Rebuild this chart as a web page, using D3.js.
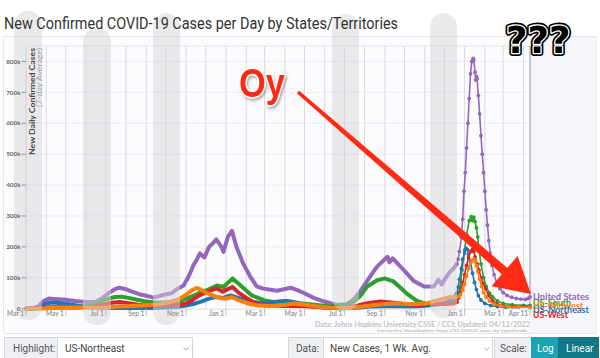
<!DOCTYPE html>
<html><head><meta charset="utf-8">
<script src="https://cdn.jsdelivr.net/npm/d3@7"></script>
<style>
html,body{margin:0;padding:0;background:#fff;}
svg{display:block;}
</style></head>
<body>
<svg id="c" width="600" height="358"></svg>
<script>
// ---------- DATA ----------
const seriesNames  = ["United States","US-South","US-Northeast","US-West","US-Midwest"];
const seriesColors = ["#9467bd","#2ca02c","#1f77b4","#d62728","#ff7f0e"];

const usData = [
["2020-03-01",0],["2020-03-12",1000],["2020-03-20",8000],["2020-03-28",25000],["2020-04-05",33000],["2020-04-15",31000],
["2020-05-01",29000],["2020-05-15",25000],["2020-06-01",22000],["2020-06-15",22000],["2020-06-25",33000],["2020-07-05",50000],
["2020-07-15",63000],["2020-07-22",68000],["2020-08-01",63000],["2020-08-10",55000],["2020-08-25",45000],["2020-09-05",40000],
["2020-09-12",36000],["2020-09-28",45000],["2020-10-10",50000],["2020-10-17",62000],["2020-10-28",75000],["2020-11-05",105000],
["2020-11-12",140000],["2020-11-17",158000],["2020-11-22",179000],["2020-11-29",166000],["2020-12-06",200000],["2020-12-12",212000],
["2020-12-17",224000],["2020-12-25",200000],["2020-12-28",184000],["2021-01-04",233000],["2021-01-10",252000],["2021-01-17",200000],
["2021-01-27",147000],["2021-02-07",104000],["2021-02-17",72000],["2021-02-27",65000],["2021-03-20",58000],["2021-04-10",68000],
["2021-04-20",60000],["2021-05-01",50000],["2021-05-15",35000],["2021-05-30",24000],["2021-06-19",12000],["2021-07-05",15000],
["2021-07-15",30000],["2021-07-25",55000],["2021-08-08",100000],["2021-08-20",136000],["2021-09-01",160000],["2021-09-05",168000],
["2021-09-08",150000],["2021-09-13",163000],["2021-09-30",125000],["2021-10-15",90000],["2021-10-31",72000],["2021-11-15",72000],
["2021-11-22",93000],["2021-11-27",78000],["2021-12-03",100000],["2021-12-10",120000],["2021-12-15",130000],["2021-12-20",145000],
["2021-12-22",160000],["2021-12-24",185000],["2021-12-27",230000],["2021-12-29",290000],["2021-12-31",380000],["2022-01-02",440000],
["2022-01-04",520000],["2022-01-06",600000],["2022-01-08",680000],["2022-01-10",760000],["2022-01-12",800000],["2022-01-14",810000],
["2022-01-15",805000],["2022-01-17",765000],["2022-01-18",740000],["2022-01-19",752000],["2022-01-20",745000],["2022-01-22",690000],
["2022-01-24",630000],["2022-01-26",560000],["2022-01-28",500000],["2022-01-30",440000],["2022-02-01",380000],["2022-02-03",320000],
["2022-02-05",270000],["2022-02-07",220000],["2022-02-09",180000],["2022-02-12",140000],["2022-02-15",110000],["2022-02-19",85000],
["2022-02-24",65000],["2022-03-01",52000],["2022-03-07",43000],["2022-03-14",37000],["2022-03-21",33000],["2022-03-28",31000],
["2022-04-04",30000],["2022-04-08",33000],["2022-04-11",38000]
];
const southData = [
["2020-03-01",0],["2020-03-20",1000],["2020-04-05",5000],["2020-05-01",6000],["2020-06-01",8000],["2020-06-15",15000],
["2020-07-01",30000],["2020-07-15",38000],["2020-07-25",39000],["2020-08-05",35000],["2020-08-20",28000],["2020-09-01",23000],
["2020-09-15",20000],["2020-10-01",20000],["2020-10-20",25000],["2020-11-01",32000],["2020-11-15",45000],["2020-11-25",55000],
["2020-12-05",62000],["2020-12-18",75000],["2020-12-28",70000],["2021-01-11",98000],["2021-01-25",72000],["2021-02-10",42000],
["2021-03-01",27000],["2021-03-15",22000],["2021-04-01",20000],["2021-05-01",16000],["2021-05-20",12000],["2021-06-10",7000],
["2021-07-01",11000],["2021-07-15",22000],["2021-07-25",40000],["2021-08-05",72000],["2021-08-20",92000],["2021-09-01",98000],
["2021-09-08",92000],["2021-09-13",90000],["2021-09-25",68000],["2021-10-05",48000],["2021-10-20",25000],["2021-11-05",14000],
["2021-11-20",14000],["2021-12-01",15000],["2021-12-15",22000],["2021-12-20",32000],["2021-12-22",45000],["2021-12-25",70000],
["2021-12-28",125000],["2022-01-01",190000],["2022-01-04",240000],["2022-01-08",285000],["2022-01-11",298000],["2022-01-13",285000],
["2022-01-15",296000],["2022-01-17",282000],["2022-01-19",262000],["2022-01-21",232000],["2022-01-23",190000],["2022-01-26",145000],
["2022-01-30",100000],["2022-02-03",72000],["2022-02-08",50000],["2022-02-13",38000],["2022-02-20",25000],["2022-03-01",17000],
["2022-03-15",13000],["2022-04-01",11000],["2022-04-11",10000]
];
const northeastData = [
["2020-03-01",0],["2020-03-20",5000],["2020-04-01",17000],["2020-04-10",20000],["2020-04-25",18000],["2020-05-10",13000],
["2020-05-25",8000],["2020-06-15",3000],["2020-07-10",2000],["2020-08-10",2000],["2020-09-10",2500],["2020-10-01",3500],
["2020-10-20",6000],["2020-11-01",10000],["2020-11-15",17000],["2020-11-25",24000],["2020-12-05",32000],["2020-12-15",38000],
["2020-12-27",35000],["2021-01-08",43000],["2021-01-20",35000],["2021-02-05",24000],["2021-02-20",19000],["2021-03-10",20000],
["2021-03-25",24000],["2021-04-05",25000],["2021-04-20",19000],["2021-05-05",11000],["2021-05-20",6000],["2021-06-10",2000],
["2021-07-01",1500],["2021-07-20",3000],["2021-08-10",7000],["2021-09-01",8000],["2021-09-20",8000],["2021-10-10",7000],
["2021-10-25",8000],["2021-11-10",11000],["2021-11-25",15000],["2021-12-05",20000],["2021-12-15",32000],["2021-12-20",50000],
["2021-12-22",70000],["2021-12-24",95000],["2021-12-27",130000],["2021-12-29",160000],["2022-01-01",180000],["2022-01-03",195000],
["2022-01-05",192000],["2022-01-07",175000],["2022-01-10",150000],["2022-01-13",115000],["2022-01-16",85000],["2022-01-19",62000],
["2022-01-22",42000],["2022-01-26",28000],["2022-02-01",17000],["2022-02-10",10000],["2022-02-20",7000],["2022-03-05",5000],
["2022-03-20",6000],["2022-04-01",8000],["2022-04-11",9000]
];
const westData = [
["2020-03-01",0],["2020-03-25",2000],["2020-04-15",3000],["2020-05-15",3500],["2020-06-10",6000],["2020-06-25",12000],
["2020-07-10",19000],["2020-07-22",22000],["2020-08-05",18000],["2020-08-20",13000],["2020-09-10",9000],["2020-10-01",10000],
["2020-10-20",13000],["2020-11-01",17000],["2020-11-10",27000],["2020-11-20",42000],["2020-12-01",52000],["2020-12-10",60000],
["2020-12-17",66000],["2020-12-27",55000],["2021-01-05",65000],["2021-01-11",70000],["2021-01-20",52000],["2021-02-01",35000],
["2021-02-15",18000],["2021-03-01",11000],["2021-04-01",9000],["2021-05-01",8000],["2021-06-01",4000],["2021-07-01",4000],
["2021-07-20",10000],["2021-08-05",18000],["2021-08-25",23000],["2021-09-10",20000],["2021-10-01",15000],["2021-10-20",12000],
["2021-11-10",15000],["2021-12-01",15000],["2021-12-15",17000],["2021-12-20",22000],["2021-12-23",35000],["2021-12-26",55000],
["2021-12-29",85000],["2022-01-01",110000],["2022-01-04",140000],["2022-01-07",165000],["2022-01-10",185000],["2022-01-13",192000],
["2022-01-15",185000],["2022-01-17",168000],["2022-01-20",145000],["2022-01-23",125000],["2022-01-26",100000],["2022-01-29",82000],
["2022-02-02",65000],["2022-02-07",42000],["2022-02-13",25000],["2022-02-20",15000],["2022-03-01",9000],["2022-03-15",6000],
["2022-04-11",6000]
];
const midwestData = [
["2020-03-01",0],["2020-03-25",1000],["2020-04-15",3000],["2020-05-01",4000],["2020-05-20",5000],["2020-06-10",3000],
["2020-07-01",4000],["2020-07-20",7000],["2020-08-10",9000],["2020-09-01",11000],["2020-09-20",14000],["2020-10-05",20000],
["2020-10-20",30000],["2020-11-01",45000],["2020-11-10",60000],["2020-11-17",67000],["2020-11-24",62000],["2020-12-01",52000],
["2020-12-10",45000],["2020-12-22",35000],["2020-12-30",32000],["2021-01-10",37000],["2021-01-20",28000],["2021-02-05",16000],
["2021-02-20",10000],["2021-03-10",9000],["2021-04-01",13000],["2021-04-15",17000],["2021-05-01",13000],["2021-05-20",7000],
["2021-06-10",3000],["2021-07-01",2500],["2021-07-20",5000],["2021-08-10",10000],["2021-09-01",15000],["2021-09-20",17000],
["2021-10-05",15000],["2021-10-20",15000],["2021-11-05",18000],["2021-11-20",27000],["2021-12-01",33000],["2021-12-10",38000],
["2021-12-15",36000],["2021-12-20",38000],["2021-12-23",40000],["2021-12-26",45000],["2021-12-29",60000],["2022-01-01",80000],
["2022-01-04",105000],["2022-01-07",130000],["2022-01-10",148000],["2022-01-13",158000],["2022-01-15",160000],["2022-01-17",152000],
["2022-01-19",140000],["2022-01-21",120000],["2022-01-24",95000],["2022-01-27",72000],["2022-01-30",52000],["2022-02-03",38000],
["2022-02-08",25000],["2022-02-15",15000],["2022-02-25",9000],["2022-03-10",6000],["2022-03-25",5000],["2022-04-11",5000]
];
const seriesData = [usData, southData, northeastData, westData, midwestData];

const yTickValues = [0,100000,200000,300000,400000,500000,600000,700000,800000];
const yTickLabels = ["0","100k","200k","300k","400k","500k","600k","700k","800k"];
const xTickDates  = ["2020-03-01","2020-05-01","2020-07-01","2020-09-01","2020-11-01","2021-01-01","2021-03-01","2021-05-01","2021-07-01","2021-09-01","2021-11-01","2022-01-01","2022-03-01","2022-04-11"];
const xTickLabels = ["Mar 1","May 1","Jul 1","Sep 1","Nov 1","Jan 1","Mar 1","May 1","Jul 1","Sep 1","Nov 1","Jan 1","Mar 1","Apr 11"];
const dateStart = "2020-03-01", dateEnd = "2022-04-11", thinFrom = "2021-12-20";

// ---------- DRAW ----------
const parse = d3.utcParse("%Y-%m-%d");
const svg = d3.select("#c");
const defs = svg.append("defs");
const f = defs.append("filter").attr("id","sh").attr("x","-20%").attr("y","-20%").attr("width","150%").attr("height","150%");
f.append("feDropShadow").attr("dx",1.5).attr("dy",2).attr("stdDeviation",1.5).attr("flood-color","#000").attr("flood-opacity",0.35);

const L = 26, R = 530, T = 46, B = 308.7;
const x = d3.scaleUtc().domain([parse(dateStart), parse(dateEnd)]).range([L, R]);
const y = d3.scaleLinear().domain([0, 850000]).range([B, T]);

const gBg = svg.append("g"), gSeries = svg.append("g"), gPill = svg.append("g"), gText = svg.append("g"), gAnn = svg.append("g");

// container
gBg.append("rect").attr("x",3.5).attr("y",36.5).attr("width",593).attr("height",297)
  .attr("fill","#fcfcfe").attr("stroke","#e6e6ee");
gBg.append("rect").attr("x",R).attr("y",37).attr("width",596.5-R).attr("height",296).attr("fill","#f6f6fa");

// horizontal grid
gBg.append("g").selectAll("line").data(yTickValues.slice(1)).join("line")
  .attr("x1",L).attr("x2",R).attr("y1",d=>y(d)).attr("y2",d=>y(d))
  .attr("stroke","#ebebf3").attr("stroke-width",1);
gBg.append("line").attr("x1",L).attr("x2",R).attr("y1",T).attr("y2",T).attr("stroke","#e4e4ec");

// vertical monthly grid
const months = d3.utcMonth.range(parse("2020-04-01"), parse(dateEnd));
gBg.append("g").selectAll("line").data(months).join("line")
  .attr("x1",d=>x(d)).attr("x2",d=>x(d)).attr("y1",T).attr("y2",B)
  .attr("stroke","#d6d6dc").attr("stroke-width",0.9);

// axes lines
gBg.append("line").attr("x1",L).attr("x2",L).attr("y1",T).attr("y2",B+1).attr("stroke","#c8c8cc").attr("stroke-width",1);
gBg.append("line").attr("x1",R).attr("x2",R).attr("y1",T).attr("y2",B+1).attr("stroke","#b4b4b8").attr("stroke-width",1.5);
gBg.append("line").attr("x1",L).attr("x2",R).attr("y1",B+0.5).attr("y2",B+0.5).attr("stroke","#dcdce2");

// series
const cut = parse(thinFrom);
const line = d3.line().x(d=>x(d.date)).y(d=>y(d.v));
seriesData.forEach((arr,i)=>{
  const data = arr.map(([d,v])=>({date:parse(d), v}));
  const thick = data.filter(d=>d.date<=cut), thin = data.filter(d=>d.date>=cut);
  const g = gSeries.append("g");
  g.append("path").attr("d",line(thick)).attr("fill","none").attr("stroke",seriesColors[i])
    .attr("stroke-width",4).attr("stroke-linejoin","round").attr("stroke-linecap","round");
  g.append("path").attr("d",line(thin)).attr("fill","none").attr("stroke",seriesColors[i])
    .attr("stroke-width",1.6).attr("stroke-linejoin","round");
  g.selectAll("circle").data(thin).join("circle").attr("cx",d=>x(d.date)).attr("cy",d=>y(d.v))
    .attr("r",1.9).attr("fill",seriesColors[i]);
});

// translucent pillars overlay (over the lines, under the texts)
const pillars = [[14,42,11,320],[83,111,28,325],[153,180,13,325],[332,359,14,311],[430,457,13,318]];
gPill.selectAll("rect").data(pillars).join("rect")
  .attr("x",d=>d[0]).attr("width",d=>d[1]-d[0]).attr("y",d=>d[2]).attr("height",d=>d[3]-d[2])
  .attr("rx",13.5).attr("fill","rgb(214,214,216)").attr("fill-opacity",0.5);

// y ticks
yTickValues.forEach((v,i)=>{
  gText.append("line").attr("x1",L-4.5).attr("x2",L).attr("y1",y(v)).attr("y2",y(v)).attr("stroke","#999");
  gText.append("text").attr("x",L-5.5).attr("y",y(v)+2.2).attr("text-anchor","end")
    .attr("font-family","Lato, sans-serif").attr("font-weight",700).attr("font-size",6.3)
    .attr("fill","#666").text(yTickLabels[i]);
});
// x ticks
xTickDates.forEach((d,i)=>{
  const xx = x(parse(d));
  gText.append("line").attr("x1",xx).attr("x2",xx).attr("y1",B).attr("y2",B+7).attr("stroke","#bbb");
  gText.append("text").attr("x",xx-2).attr("y",B+7).attr("text-anchor","end")
    .attr("font-family","Lato, sans-serif").attr("font-weight",700).attr("font-size",6.5)
    .attr("fill","#9a9a9a").text(xTickLabels[i]);
});

// y-axis title
gText.append("text").attr("transform",`translate(34.5,48) rotate(-90)`).attr("text-anchor","end")
  .attr("font-family","Lato, sans-serif").attr("font-weight",700).attr("font-size",8.3).attr("fill","#4a4a4a")
  .attr("textLength",107).attr("lengthAdjust","spacingAndGlyphs").text("New Daily Confirmed Cases");
gText.append("text").attr("transform",`translate(42.3,48) rotate(-90)`).attr("text-anchor","end")
  .attr("font-family","Lato, sans-serif").attr("font-size",7.2).attr("fill","#a5a5a5")
  .attr("textLength",59).attr("lengthAdjust","spacingAndGlyphs").text("(7-day Average)");

// end labels
const labelOrder = [0,1,4,2,3];
const labelBase = {0:300.2,1:306.3,4:309.3,2:313.2,3:318.4};
const labelLen = {0:56,1:38,4:50,2:56,3:35};
labelOrder.forEach(i=>{
  gText.append("text").attr("x",R+3).attr("y",labelBase[i]).attr("font-family","Lato, sans-serif")
    .attr("font-weight",700).attr("font-size",8.6).attr("fill",seriesColors[i])
    .attr("textLength",labelLen[i]).attr("lengthAdjust","spacingAndGlyphs").text(seriesNames[i]);
});

// source
gText.append("text").attr("x",R).attr("y",326.5).attr("text-anchor","end").attr("font-family","Lato, sans-serif")
  .attr("font-weight",700).attr("font-size",7).attr("fill","#c3c3c3")
  .attr("textLength",215).attr("lengthAdjust","spacingAndGlyphs")
  .text("Data: Johns Hopkins University CSSE / CCI; Updated: 04/12/2022");
gText.append("text").attr("x",R).attr("y",332).attr("text-anchor","end").attr("font-family","Lato, sans-serif")
  .attr("font-size",4.3).attr("fill","#a8a8a8")
  .attr("textLength",153).attr("lengthAdjust","spacingAndGlyphs")
  .text("Interactive Visualization: https://91-DIVOC.com/ by @profwade_");

// title
gText.append("text").attr("x",4).attr("y",28.5).attr("font-family","Roboto, sans-serif").attr("font-size",16)
  .attr("fill","#333").attr("textLength",394).attr("lengthAdjust","spacingAndGlyphs")
  .text("New Confirmed COVID-19 Cases per Day by States/Territories");

// controls
const ctl = gText.append("g").attr("font-family","Roboto, sans-serif").attr("font-size",10);
function box(x0,w,fill,stroke){ctl.append("rect").attr("x",x0+0.5).attr("y",337.5).attr("width",w).attr("height",22).attr("fill",fill).attr("stroke",stroke);}
function txt(x0,s,col){ctl.append("text").attr("x",x0).attr("y",351.5).attr("fill",col).text(s);}
function chev(cx){ctl.append("path").attr("d",`M${cx-2.5},${347.5} L${cx},${350} L${cx+2.5},${347.5}`).attr("fill","none").attr("stroke","#999").attr("stroke-width",0.8);}
box(4,53,"#eef0f3","#d3d7dc"); txt(13,"Highlight:","#555");
box(57,135,"#fff","#d3d7dc"); txt(65,"US-Northeast","#444"); chev(186);
box(288,35,"#eef0f3","#d3d7dc"); txt(296,"Data:","#555");
box(323,169,"#fff","#d3d7dc"); txt(330,"New Cases, 1 Wk. Avg.","#444"); chev(487);
box(494,37,"#eef0f3","#d3d7dc"); txt(500,"Scale:","#555");
ctl.append("rect").attr("x",531).attr("y",337).attr("width",27).attr("height",23).attr("fill","#1ca3b5");
ctl.append("rect").attr("x",558).attr("y",337).attr("width",41).attr("height",23).attr("fill","#127787");
txt(537,"Log","#fff"); txt(566,"Linear","#fff");

// annotations: arrow
const S=[298,92], Tp=[531,294];
const dx=Tp[0]-S[0], dy=Tp[1]-S[1], len=Math.hypot(dx,dy), ux=dx/len, uy=dy/len, nx=-uy, ny=ux;
const Bp=[Tp[0]-35*ux, Tp[1]-35*uy];
const pts=[[S[0]+nx*1.8,S[1]+ny*1.8],[Bp[0]+nx*4.2,Bp[1]+ny*4.2],[Bp[0]+nx*20,Bp[1]+ny*20],Tp,
  [Bp[0]-nx*20,Bp[1]-ny*20],[Bp[0]-nx*4.2,Bp[1]-ny*4.2],[S[0]-nx*1.8,S[1]-ny*1.8]];
gAnn.append("polygon").attr("points",pts.map(p=>p.join(",")).join(" ")).attr("fill","#ff2b14");

// "Oy"
gAnn.append("text").attr("transform","translate(239,97) scale(0.84,1)")
  .attr("font-family","'Liberation Sans', Arial, sans-serif").attr("font-weight",700).attr("font-size",41)
  .attr("fill","#ff2a12").attr("stroke","#fff").attr("stroke-width",3).attr("paint-order","stroke")
  .attr("stroke-linejoin","round").attr("filter","url(#sh)").text("Oy");

// "???"
const q = gAnn.append("g").attr("font-family","'DejaVu Sans', sans-serif").attr("font-weight",700).attr("font-size",37);
q.append("text").attr("x",506).attr("y",53).attr("fill","#000").attr("stroke","#000").attr("stroke-width",6).attr("stroke-linejoin","round").text("???");
q.append("text").attr("x",506).attr("y",53).attr("fill","#000").attr("stroke","#fff").attr("stroke-width",2.6).attr("stroke-linejoin","round").text("???");
q.append("text").attr("x",506).attr("y",53).attr("fill","#000").text("???");
</script>
</body></html>
